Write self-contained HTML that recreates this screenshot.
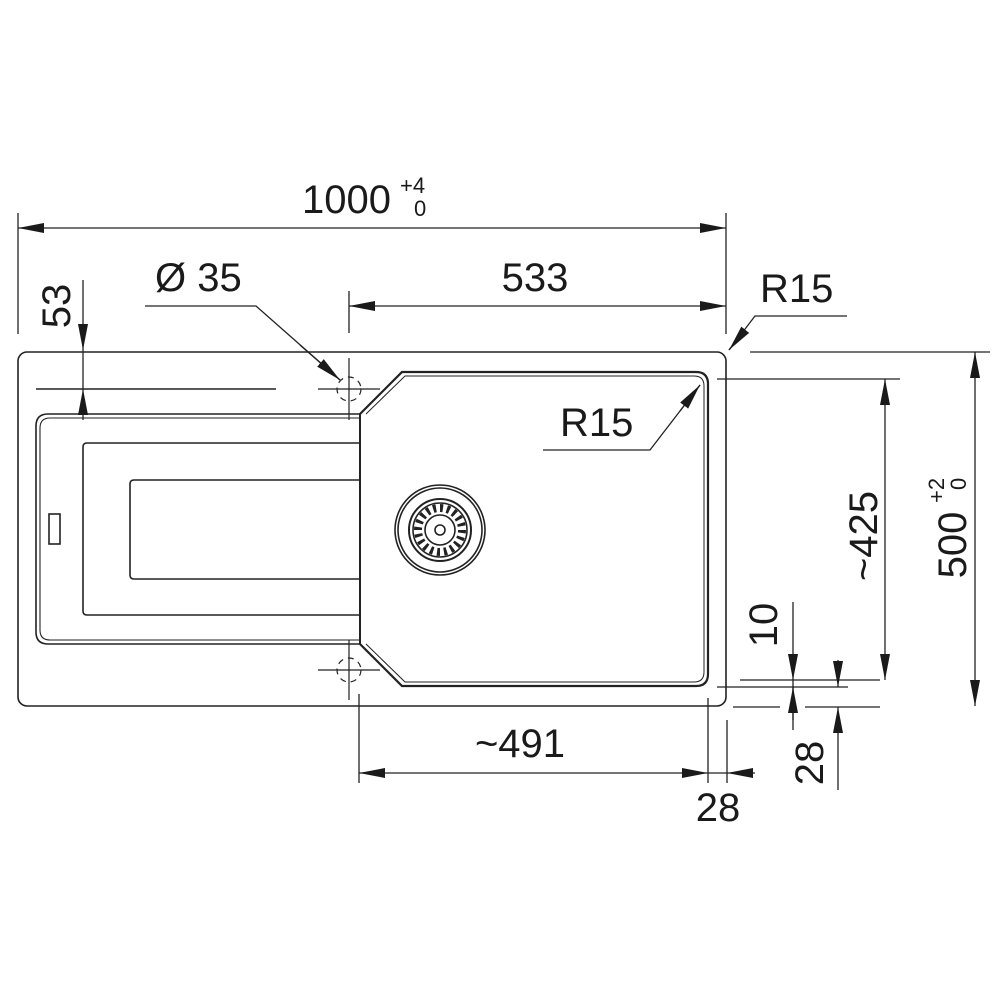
<!DOCTYPE html>
<html><head><style>html,body{margin:0;padding:0;background:#fff}svg{display:block}text{font-family:"Liberation Sans",sans-serif;fill:#1a1a1a}</style></head>
<body>
<svg width="1000" height="1000" viewBox="0 0 1000 1000" xmlns="http://www.w3.org/2000/svg">
<defs>
<marker id="a" viewBox="0 0 26 12" refX="26" refY="6" markerWidth="26" markerHeight="12" markerUnits="userSpaceOnUse" orient="auto-start-reverse"><path d="M0,1 L26,6 L0,11 Z" fill="#1a1a1a"/></marker>
</defs>
<g stroke="#222" stroke-width="1.6" fill="none">
<rect x="18" y="352" width="708" height="354" rx="9"/>
<path d="M360,414 H48 Q36,414 36,426 V632 Q36,644 48,644 H360"/>
<path d="M360,418 H50 Q40,418 40,428 V630 Q40,640 50,640 H360" stroke-width="1.1"/>
<path d="M360,443 H87 Q83,443 83,447 V611 Q83,615 87,615 H360"/>
<path d="M360,480 H134 Q130,480 130,484 V575 Q130,579 134,579 H360"/>
<rect x="49" y="514" width="11" height="30"/>
<line x1="36" y1="389" x2="276" y2="389"/>
<line x1="360" y1="414" x2="360" y2="644" stroke-width="2"/>
<path d="M360,414 L402,372 H696 Q708,372 708,384 V674 Q708,686 696,686 H402 L360,644" stroke-width="2.2"/>
<path d="M366,414 L405,376 H694 Q704,376 704,386 V672 Q704,682 694,682 H405 L366,644" stroke-width="1"/>
<circle cx="440" cy="530" r="45"/><circle cx="440" cy="530" r="42"/>
<circle cx="440" cy="530" r="31" stroke-width="2"/><circle cx="440" cy="530" r="27"/>
<circle cx="440" cy="530" r="15"/><circle cx="440" cy="530" r="5"/>
<circle cx="440" cy="530" r="22" stroke-width="8" stroke-dasharray="3 3.9"/>
<g stroke-width="1.2">
<line x1="349" y1="358" x2="349" y2="420"/><line x1="318" y1="389" x2="380" y2="389"/>
<circle cx="349" cy="389" r="12" stroke-dasharray="6 5"/>
<line x1="349" y1="640" x2="349" y2="700"/><line x1="318" y1="670" x2="380" y2="670"/>
<circle cx="349" cy="670" r="12" stroke-dasharray="6 5"/>
</g>
</g>
<g stroke="#222" stroke-width="1.3" fill="none">
<line x1="18" y1="213" x2="18" y2="334"/><line x1="726" y1="213" x2="726" y2="334"/>
<line x1="18" y1="228" x2="726" y2="228" marker-start="url(#a)" marker-end="url(#a)"/>
<line x1="349" y1="291" x2="349" y2="333"/>
<line x1="349" y1="306" x2="726" y2="306" marker-start="url(#a)" marker-end="url(#a)"/>
<line x1="83" y1="280" x2="83" y2="350" marker-end="url(#a)"/>
<line x1="83" y1="350" x2="83" y2="389"/>
<line x1="83" y1="420" x2="83" y2="389" marker-end="url(#a)"/>
<polyline points="145,306 256,306 340,380" />
<line x1="300" y1="345" x2="340" y2="380" marker-end="url(#a)"/>
<polyline points="847,316 755,316 729,350"/>
<line x1="745" y1="330" x2="729" y2="350" marker-end="url(#a)"/>
<polyline points="543,450 650,450 700,385"/>
<line x1="680" y1="411" x2="700" y2="385" marker-end="url(#a)"/>
<line x1="750" y1="352" x2="990" y2="352"/>
<line x1="975" y1="352" x2="975" y2="706" marker-start="url(#a)" marker-end="url(#a)"/>
<line x1="717" y1="379" x2="900" y2="379"/>
<line x1="885" y1="379" x2="885" y2="680" marker-start="url(#a)" marker-end="url(#a)"/>
<line x1="740" y1="680" x2="880" y2="680"/>
<line x1="717" y1="687" x2="848" y2="687"/>
<line x1="733" y1="707" x2="780" y2="707"/><line x1="805" y1="707" x2="880" y2="707"/>
<line x1="793" y1="602" x2="793" y2="680" marker-end="url(#a)"/>
<line x1="793" y1="680" x2="793" y2="720"/>
<line x1="793" y1="730" x2="793" y2="687" marker-end="url(#a)"/>
<line x1="838" y1="660" x2="838" y2="687" marker-end="url(#a)"/>
<line x1="838" y1="790" x2="838" y2="707" marker-end="url(#a)"/>
<line x1="359" y1="694" x2="359" y2="783"/><line x1="708" y1="698" x2="708" y2="783"/><line x1="727" y1="720" x2="727" y2="783"/>
<line x1="359" y1="773" x2="708" y2="773" marker-start="url(#a)" marker-end="url(#a)"/>
<line x1="708" y1="773" x2="727" y2="773"/>
<line x1="755" y1="773" x2="727" y2="773" marker-end="url(#a)"/>
</g>
<g font-size="40">
<text x="302" y="213">1000</text>
<text x="400" y="193" font-size="22">+4</text>
<text x="414" y="216" font-size="22">0</text>
<text x="535" y="291" text-anchor="middle">533</text>
<text x="155" y="291">Ø 35</text>
<text x="760" y="302">R15</text>
<text x="560" y="436">R15</text>
<text x="520" y="757" text-anchor="middle">~491</text>
<text x="718" y="821" text-anchor="middle">28</text>
<text transform="translate(70,306) rotate(-90)" text-anchor="middle">53</text>
<text transform="translate(877,536) rotate(-90)" text-anchor="middle">~425</text>
<text transform="translate(966,545) rotate(-90)" text-anchor="middle">500</text>
<text transform="translate(944,503) rotate(-90)" font-size="22">+2</text>
<text transform="translate(966,490) rotate(-90)" font-size="22">0</text>
<text transform="translate(777,625) rotate(-90)" text-anchor="middle">10</text>
<text transform="translate(823,763) rotate(-90)" text-anchor="middle">28</text>
</g>
</svg>
</body></html>
